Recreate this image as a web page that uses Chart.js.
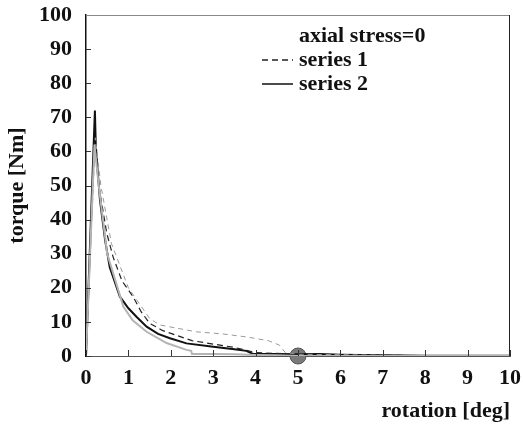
<!DOCTYPE html>
<html>
<head>
<meta charset="utf-8">
<script src="https://cdn.jsdelivr.net/npm/chart.js@4.4.1/dist/chart.umd.min.js"></script>
<style>
  html, body { margin: 0; padding: 0; background: #fff; }
  #wrap { width: 523px; height: 429px; }
</style>
</head>
<body>
<div id="wrap"><canvas id="torqueChart"></canvas></div>
<script>
// values
var legendTitle = "axial stress=0";
var xTicks = [0, 1, 2, 3, 4, 5, 6, 7, 8, 9, 10];
var yTicks = [0, 10, 20, 30, 40, 50, 60, 70, 80, 90, 100];

var s1Rot    = [0, 0.2, 0.3, 0.49, 0.64, 0.85, 1.11, 1.3, 1.5, 1.8, 2.5, 3.5, 4.0, 5.0, 6.0, 8.0, 10];
var s1Torque = [0, 63, 50, 36, 29, 22, 17.4, 13, 9.6, 7.5, 4.5, 2.5, 1.0, 0.5, 0.3, 0.1, 0];

var s2Rot    = [0, 0.21, 0.23, 0.27, 0.33, 0.45, 0.56, 0.8, 1.0, 1.19, 1.43, 1.7, 1.98, 2.37, 3.0, 3.5, 3.78, 3.94, 4.5, 5.0, 5.5, 6.0, 7.0, 8.0, 9.0, 10];
var s2Torque = [0, 72, 62, 55, 45.7, 34, 26, 17.4, 14, 11.5, 8.6, 6.5, 5.2, 3.7, 2.7, 2.0, 1.5, 0.6, 0.6, 0.5, 0.6, 0.4, 0.2, 0.1, 0.1, 0.1];

// unlabelled grey repeat runs
var g1Rot    = [0, 0.22, 0.35, 0.6, 1.0, 1.5, 1.74, 2.6, 3.2, 3.78, 4.3, 4.56, 4.7, 5.0, 6.0, 7.0, 8.0, 9.0, 10];
var g1Torque = [0, 64, 50, 33, 20, 11, 9.1, 7.1, 6.5, 5.6, 4.5, 3.2, 1.0, 0.5, 0.4, 0.2, 0.1, 0.1, 0];
var g2Rot    = [0, 0.2, 0.3, 0.5, 0.88, 1.1, 1.43, 1.9, 2.37, 2.48, 2.5, 3.0, 3.5, 4.0, 4.5, 5.0, 6.0, 8.0, 10];
var g2Torque = [0, 62, 50, 30, 14.5, 10.5, 7.1, 3.8, 1.8, 1.5, 0.6, 0.6, 0.5, 0.3, 0.2, 0, 0, 0, 0];

var markRot = [5];
var markTorque = [0];

function pts(xs, ys){
    var out = [];
    for(var i = 0; i < xs.length; i++){
        out.push({x: xs[i], y: ys[i]});
    }
    return out;
}

var FONT = "'Liberation Serif', 'DejaVu Serif', serif";

// inner tick marks + top/right frame + legend inside the plot
var framePlugin = {
    id: "frame",
    afterDraw: function(chart){
        var c = chart.ctx, a = chart.chartArea;
        var xs = chart.scales.x, ys = chart.scales.y;
        c.save();
        c.strokeStyle = "#333";
        c.lineWidth = 1;
        xTicks.forEach(function(v){
            var px = Math.round(xs.getPixelForValue(v)) + 0.5;
            c.beginPath(); c.moveTo(px, a.bottom); c.lineTo(px, a.bottom - 6); c.stroke();
        });
        yTicks.forEach(function(v){
            var py = Math.round(ys.getPixelForValue(v)) + 0.5;
            c.beginPath(); c.moveTo(a.left, py); c.lineTo(a.left + 5, py); c.stroke();
        });
        // top frame (faint) and right frame
        c.strokeStyle = "#888";
        c.beginPath(); c.moveTo(a.left, a.top + 0.5); c.lineTo(a.right, a.top + 0.5); c.stroke();
        c.strokeStyle = "#222";
        c.beginPath(); c.moveTo(a.right - 0.5, a.top); c.lineTo(a.right - 0.5, a.bottom); c.stroke();

        // legend
        var lx = 262, tx = 299;
        c.fillStyle = "#111";
        c.font = "bold 22px " + FONT;
        c.textBaseline = "middle";
        c.fillText(legendTitle, tx, 36);
        var rowY = [60, 84];
        var shown = chart.data.datasets.filter(function(d){ return d.inLegend; });
        shown.forEach(function(d, i){
            c.strokeStyle = d.borderColor;
            c.lineWidth = 1.5;
            c.setLineDash(d.borderDash || []);
            c.beginPath(); c.moveTo(lx, rowY[i]); c.lineTo(lx + 31, rowY[i]); c.stroke();
            c.setLineDash([]);
            c.fillText(d.label, tx, rowY[i]);
        });
        c.restore();
    }
};

var ctx = document.getElementById("torqueChart");
var chart = new Chart(ctx, {
    type: "line",
    data: {
        datasets: [
            {label: "grey a", data: pts(g2Rot, g2Torque), borderColor: "#b4b4b4", borderWidth: 2},
            {label: "grey b", data: pts(g1Rot, g1Torque), borderColor: "#9a9a9a", borderWidth: 1, borderDash: [5, 4]},
            {label: "series 1", inLegend: true, data: pts(s1Rot, s1Torque), borderColor: "#222", borderWidth: 1.2, borderDash: [6, 4]},
            {label: "series 2", inLegend: true, data: pts(s2Rot, s2Torque), borderColor: "#111", borderWidth: 2},
            {label: "mark", type: "scatter", clip: false, data: pts(markRot, markTorque), pointRadius: 8,
             backgroundColor: "#7a7a7a", borderColor: "#555", borderWidth: 1}
        ]
    },
    options: {
        responsive: true,
        maintainAspectRatio: false,
        animation: false,
        elements: { point: { radius: 0 }, line: { tension: 0, fill: false } },
        layout: { padding: { top: 15, right: 13, left: 0, bottom: 0 } },
        plugins: { legend: { display: false }, tooltip: { enabled: false } },
        scales: {
            x: {
                type: "linear", min: 0, max: 10,
                afterBuildTicks: function(s){ s.ticks = xTicks.map(function(v){ return {value: v}; }); },
                ticks: { font: { family: FONT, size: 22, weight: "bold" }, color: "#111", padding: 9, maxRotation: 0 },
                grid: { drawOnChartArea: false, drawTicks: false },
                border: { color: "#555", width: 1 },
                title: { display: true, text: "rotation [deg]", align: "end",
                         font: { family: FONT, size: 22, weight: "bold" }, color: "#111", padding: { top: 4, bottom: 4 } },
                afterFit: function(s){ s.height = 73; s.paddingLeft = 0; s.paddingRight = 0; }
            },
            y: {
                min: 0, max: 100,
                afterBuildTicks: function(s){ s.ticks = yTicks.map(function(v){ return {value: v}; }); },
                ticks: { font: { family: FONT, size: 22, weight: "bold" }, color: "#111", padding: 14 },
                grid: { drawOnChartArea: false, drawTicks: false },
                border: { color: "#111", width: 1.5 },
                title: { display: true, text: "torque [Nm]",
                         font: { family: FONT, size: 22, weight: "bold" }, color: "#111", padding: { bottom: 2 } },
                afterFit: function(s){ s.width = 86; s.paddingTop = 0; s.paddingBottom = 0; }
            }
        }
    },
    plugins: [framePlugin]
});
</script>
</body>
</html>
